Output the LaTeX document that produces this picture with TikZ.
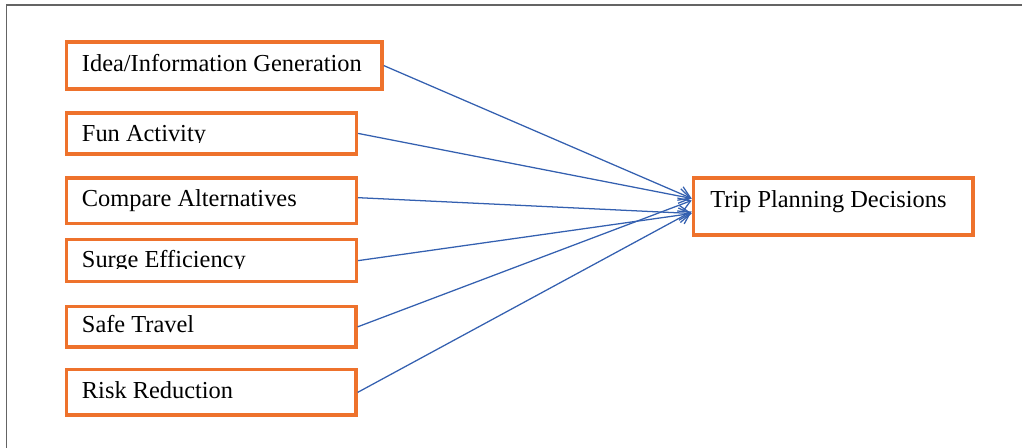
\documentclass[tikz,border=0pt]{standalone}
\usepackage{fontspec}
\setmainfont{Liberation Serif}
\usetikzlibrary{arrows.meta}
\definecolor{boxorange}{RGB}{238,114,44}
\definecolor{arrowblue}{RGB}{52,96,176}
\definecolor{framegray}{RGB}{100,100,100}
\begin{document}
\begin{tikzpicture}[x=0.75pt,y=-0.75pt,
  frame/.style={draw=boxorange, line width=2.6pt, rectangle, inner sep=0pt, anchor=north west},
  btext/.style={anchor=base west, inner sep=0pt, font=\fontsize{18.3}{22}\selectfont},
  arr/.style={draw=arrowblue, line width=0.95pt, -{Straight Barb[length=8.5pt,width=11pt]}}]
\useasboundingbox (0,0) rectangle (1022,448);
% outer frame (top and left edges)
\draw[framegray, line width=1.2pt] (6.5,448) -- (6.5,5) -- (1022,5);
% boxes
\node[frame, minimum width=315.8*0.75pt, minimum height=46.7*0.75pt] (b1) at (64.5,40.5) {};
\node[frame, minimum width=290.2*0.75pt, minimum height=41*0.75pt] (b2) at (64.5,111.2) {};
\node[frame, minimum width=290.2*0.75pt, minimum height=45.5*0.75pt] (b3) at (64.5,176.2) {};
\node[frame, minimum width=290.2*0.75pt, minimum height=42.2*0.75pt] (b4) at (64.5,237.8) {};
\node[frame, minimum width=289.7*0.75pt, minimum height=40.8*0.75pt] (b5) at (64.5,304.7) {};
\node[frame, minimum width=289.7*0.75pt, minimum height=45.3*0.75pt] (b6) at (64.5,368) {};
\node[frame, minimum width=279.6*0.75pt, minimum height=57.1*0.75pt] (t) at (691.7,176.2) {};
% texts
\node[btext] (b1t) at (81.7,71.7) {Idea/Information Generation};
\begin{scope}
  \clip (70,115) rectangle (350,142.9);
  \node[btext] (b2t) at (81.7,141.7) {Fun Activity};
\end{scope}
\node[btext] (b3t) at (81.7,206.7) {Compare Alternatives};
\begin{scope}
  \clip (70,241) rectangle (350,269);
  \node[btext] (b4t) at (81.7,267.3) {Surge Efficiency};
\end{scope}
\node[btext] (b5t) at (81.7,332.7) {Safe Travel};
\node[btext] (b6t) at (81.7,399) {Risk Reduction};
\node[btext] (tt) at (710,207.3) {Trip Planning Decisions};
% connectors
\draw[arr] (b1.east) -- ([yshift=6pt]t.west);
\draw[arr] (b2.east) -- ([yshift=6pt]t.west);
\draw[arr] ([yshift=2.25pt]b3.east) -- ([yshift=-5.25pt]t.west);
\draw[arr] (b4.east) -- ([yshift=-5.25pt]t.west);
\draw[arr] (b5.east) -- ([yshift=4.5pt]t.west);
\draw[arr] (b6.east) -- ([yshift=-3.75pt]t.west);
\end{tikzpicture}
\end{document}
